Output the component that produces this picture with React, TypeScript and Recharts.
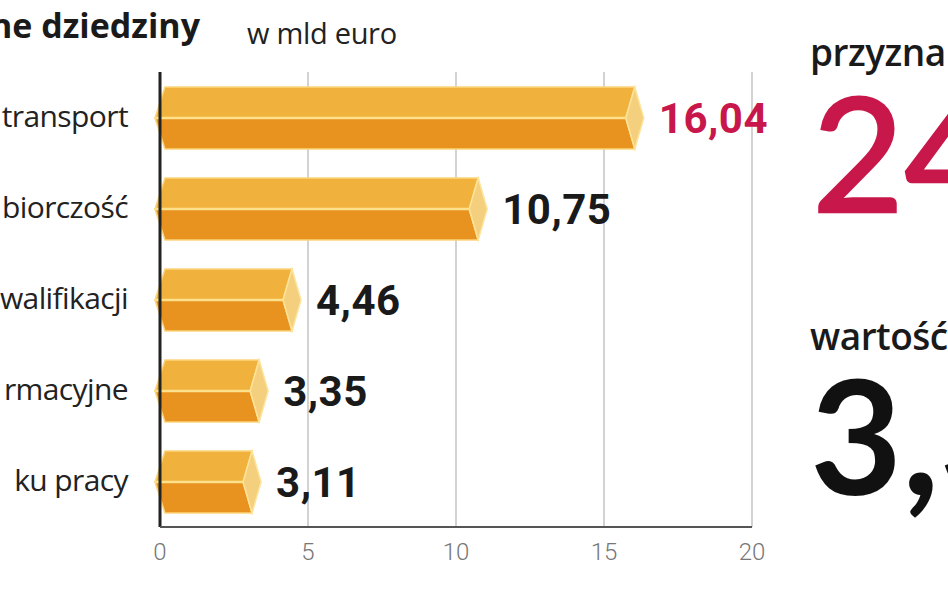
import React from "react";
import {
  BarChart,
  Bar,
  XAxis,
  YAxis,
  CartesianGrid,
  LabelList,
  ReferenceLine,
} from "recharts";

// dane z wykresu (mld euro)
const categories = ["transport", "biorczość", "walifikacji", "rmacyjne", "ku pracy"];
const values = [16.04, 10.75, 4.46, 3.35, 3.11];
const xTicks = [0, 5, 10, 15, 20];
const valueColors = ["#c8174a", "#1a1a1a", "#1a1a1a", "#1a1a1a", "#1a1a1a"];

// teksty poboczne
const title = "ne dziedziny";
const unit = "w mld euro";
const sideLabels = ["przyzna", "wartość"];
const sideNumbers = ["24", "3,3"];

const data = categories.map((name, i) => ({ name, value: values[i] }));

const labelFont = "'Open Sans', 'Noto Sans', sans-serif";
const numFont = "Roboto, 'Noto Sans', sans-serif";

// belka w kształcie graniastosłupa sześciokątnego
const PrismBar = (props: any) => {
  const { x, y, width, height } = props;
  if (width == null || height == null) return null;
  const cy = y + height / 2;
  const r = x + width;
  const top = `M${x - 5},${cy} L${x + 5},${y} L${r},${y} L${r - 9},${cy} Z`;
  const bottom = `M${x - 5},${cy} L${x + 5},${y + height} L${r},${y + height} L${r - 9},${cy} Z`;
  const cap = `M${r},${y} L${r + 9},${cy} L${r},${y + height} L${r - 9},${cy} Z`;
  return (
    <g>
      <path d={top} fill="#f1b23d" stroke="#fbd57c" strokeWidth={1.5} />
      <path d={bottom} fill="#e8931f" stroke="#fbd57c" strokeWidth={1.5} />
      <path d={cap} fill="#f3cf7e" stroke="#fde49a" strokeWidth={1.5} />
      <line x1={x - 5} y1={cy} x2={r - 9} y2={cy} stroke="#fde08c" strokeWidth={2.5} />
    </g>
  );
};

const ValueLabel = (props: any) => {
  const { x, y, width, height, value, index } = props;
  return (
    <text
      x={x + width + 24}
      y={y + height / 2}
      dy={15}
      fill={valueColors[index]}
      fontFamily={numFont}
      fontWeight={700}
      fontSize={42}
      letterSpacing={0.5}
    >
      {value.toFixed(2).replace(".", ",")}
    </text>
  );
};

const CategoryTick = (props: any) => {
  const { x, y, payload } = props;
  return (
    <text
      x={x - 24}
      y={y}
      dy={9}
      textAnchor="end"
      fill="#222"
      fontFamily={labelFont}
      fontSize={30}
      letterSpacing={-0.6}
    >
      {payload.value}
    </text>
  );
};

const App = () => {
  return (
    <div
      style={{
        position: "fixed",
        left: 0,
        top: 0,
        width: 948,
        height: 593,
        overflow: "hidden",
        background: "#fff",
      }}
    >
      <BarChart
        width={948}
        height={593}
        layout="vertical"
        data={data}
        margin={{ top: 72, right: 196, bottom: 0, left: 0 }}
        style={{ position: "absolute", left: 0, top: 0 }}
      >
        <CartesianGrid horizontal={false} vertical stroke="#b5b5b5" strokeWidth={1.2} />
        <XAxis
          type="number"
          domain={[0, 20]}
          ticks={xTicks}
          height={66}
          axisLine={{ stroke: "#555", strokeWidth: 2 }}
          tickLine={false}
          tick={{ fill: "#777", fontSize: 24, fontFamily: numFont, fontWeight: 300 }}
          tickMargin={10}
        />
        <YAxis
          type="category"
          dataKey="name"
          width={160}
          axisLine={false}
          tickLine={false}
          tick={<CategoryTick />}
        />
        <ReferenceLine x={0} stroke="#222" strokeWidth={3} />
        <Bar dataKey="value" barSize={62} shape={<PrismBar />} isAnimationActive={false}>
          <LabelList dataKey="value" content={<ValueLabel />} />
        </Bar>
      </BarChart>

      <svg
        width={948}
        height={593}
        style={{ position: "absolute", left: 0, top: 0, pointerEvents: "none" }}
      >
        <text x={200} y={38} textAnchor="end" fontFamily={labelFont} fontWeight={700} fontSize={34} fill="#1a1a1a">
          {title}
        </text>
        <text x={247} y={44} fontFamily={labelFont} fontSize={29} fill="#222" letterSpacing={-0.3}>
          {unit}
        </text>
        <text x={810} y={66} fontFamily={labelFont} fontWeight={600} fontSize={37} fill="#1a1a1a" letterSpacing={-0.5}>
          {sideLabels[0]}
        </text>
        <text
          x={812}
          y={212}
          fontFamily="Lato, sans-serif"
          fontSize={159}
          fill="#c8174a"
          stroke="#c8174a"
          strokeWidth={2.5}
        >
          {sideNumbers[0]}
        </text>
        <text x={810} y={350} fontFamily={labelFont} fontWeight={600} fontSize={37} fill="#1a1a1a" letterSpacing={-0.5}>
          {sideLabels[1]}
        </text>
        <text x={810} y={495} fontFamily="Lato, sans-serif" fontWeight={700} fontSize={159} fill="#111">
          {sideNumbers[1]}
        </text>
      </svg>
    </div>
  );
};

export default App;
